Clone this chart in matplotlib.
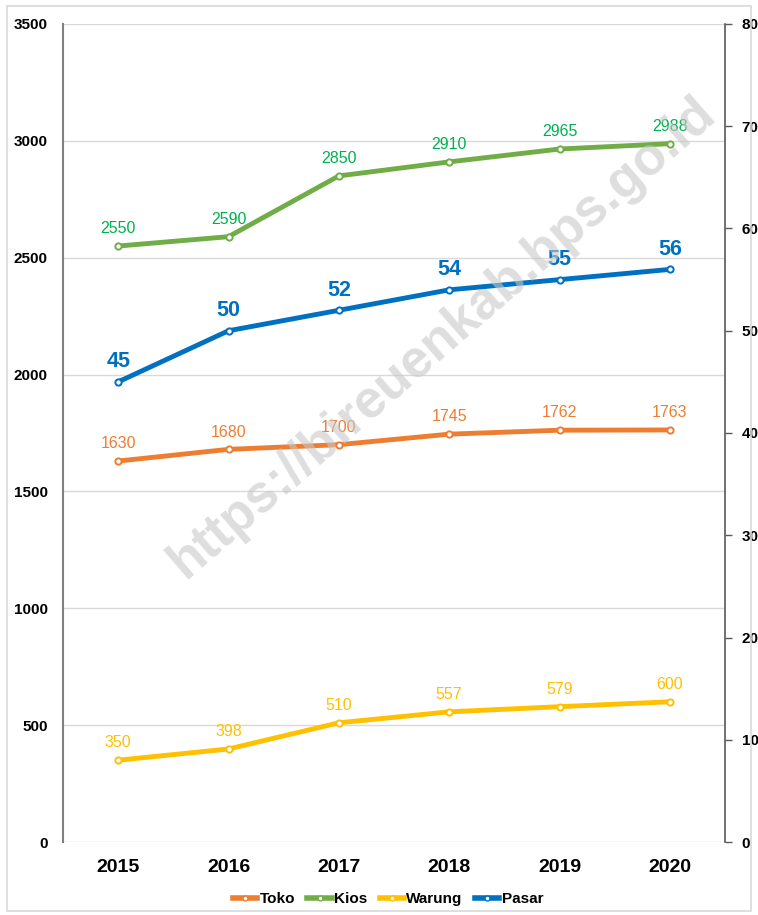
import matplotlib
matplotlib.use("Agg")
import matplotlib.pyplot as plt
from matplotlib.patches import Rectangle
from matplotlib.lines import Line2D

years = ["2015", "2016", "2017", "2018", "2019", "2020"]
toko = [1630, 1680, 1700, 1745, 1762, 1763]
kios = [2550, 2590, 2850, 2910, 2965, 2988]
warung = [350, 398, 510, 557, 579, 600]
pasar = [45, 50, 52, 54, 55, 56]

c_toko = "#ED7D31"
c_kios = "#70AD47"
c_warung = "#FFC000"
c_pasar = "#0070C0"
c_kios_lbl = "#00B050"

plt.rcParams["font.family"] = ["Liberation Sans", "DejaVu Sans"]

fig = plt.figure(figsize=(7.58, 9.15), dpi=100)
fig.patches.append(Rectangle((7/758, 4/915), 744/758, 905/915, transform=fig.transFigure,
                             fill=False, edgecolor="#D9D9D9", linewidth=1.2))
ax = fig.add_axes([63/758, 73/915, 662/758, 818/915])
ax2 = ax.twinx()

x = list(range(len(years)))
mk = dict(marker="o", markersize=4.5, markerfacecolor="white", markeredgewidth=1.4)
ax.plot(x, toko, color=c_toko, lw=3.5, markeredgecolor=c_toko, **mk, zorder=3)
ax.plot(x, kios, color=c_kios, lw=3.5, markeredgecolor=c_kios, **mk, zorder=3)
ax.plot(x, warung, color=c_warung, lw=3.5, markeredgecolor=c_warung, **mk, zorder=3)
ax2.plot(x, pasar, color=c_pasar, lw=3.5, markeredgecolor=c_pasar, **mk, zorder=3)

lbl = dict(textcoords="offset points", ha="center", va="bottom", fontsize=11.5)
for xi, v in zip(x, toko):
    ax.annotate(str(v), (xi, v), xytext=(0, 7), color=c_toko, **lbl)
for xi, v in zip(x, kios):
    ax.annotate(str(v), (xi, v), xytext=(0, 7), color=c_kios_lbl, **lbl)
for xi, v in zip(x, warung):
    ax.annotate(str(v), (xi, v), xytext=(0, 7), color=c_warung, **lbl)
for xi, v in zip(x, pasar):
    ax2.annotate(str(v), (xi, v), xytext=(0, 7), textcoords="offset points", ha="center",
                 va="bottom", color=c_pasar, fontsize=15.5, fontweight="bold")

ax.set_xlim(-0.5, 5.5)
ax.set_ylim(0, 3500)
ax2.set_ylim(0, 80)
ax.set_yticks(range(0, 3501, 500))
ax2.set_yticks(range(0, 81, 10))
ax.set_xticks(x)
ax.set_xticklabels(years, fontsize=14, fontweight="bold")
for t in ax.get_yticklabels():
    t.set_fontsize(11); t.set_fontweight("bold")
for t in ax2.get_yticklabels():
    t.set_fontsize(11); t.set_fontweight("bold")

ax.grid(axis="y", color="#D9D9D9", lw=1)
ax.set_axisbelow(True)
ax.tick_params(axis="x", length=0, pad=12)
ax.tick_params(axis="y", length=0, pad=11)
ax2.tick_params(axis="y", length=5, width=1, color="#595959", pad=7)
for a in (ax, ax2):
    a.spines["top"].set_visible(False)
    a.spines["bottom"].set_visible(False)
ax.spines["left"].set_color("#7F7F7F")
ax.spines["left"].set_linewidth(1.5)
ax.spines["right"].set_visible(False)
ax2.spines["left"].set_visible(False)
ax2.spines["right"].set_color("#595959")
ax2.spines["right"].set_linewidth(1.2)

fig.text(442/758, 1 - 338/915, "https://bireuenkab.bps.go.id", rotation=41, ha="center",
         va="center", fontsize=38, fontweight="bold", color="#C8C8C8", alpha=0.6, zorder=10)

handles = [Line2D([], [], color=c, lw=4, marker="o", markersize=3.5, markerfacecolor="white",
                  markeredgecolor=c, markeredgewidth=1)
           for c in (c_toko, c_kios, c_warung, c_pasar)]
fig.legend(handles, ["Toko", "Kios", "Warung", "Pasar"], loc="center", bbox_to_anchor=(388/758, 1 - 899/915),
           ncol=4, frameon=False, handlelength=1.6, handletextpad=0.15,
           columnspacing=0.8, prop={"weight": "bold", "size": 11})

fig.savefig("out.png", dpi=100)
